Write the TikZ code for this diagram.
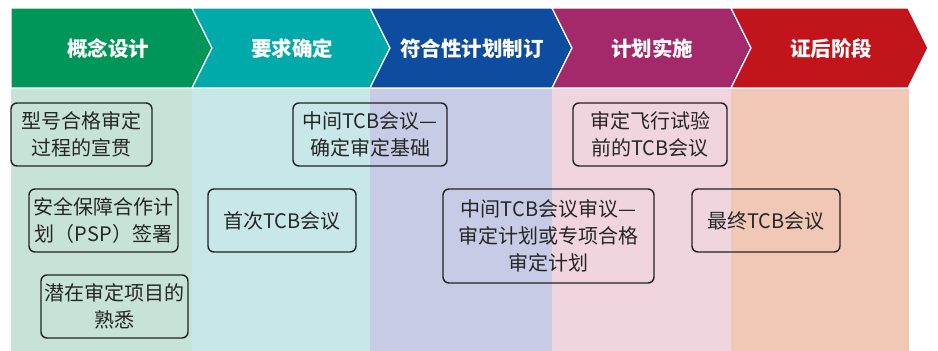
\documentclass[tikz,border=0pt]{standalone}
\usepackage{fontspec}
\newfontfamily\cjk{Noto Sans CJK SC}
\definecolor{cgreen}{HTML}{00965A}
\definecolor{cteal}{HTML}{00A9AA}
\definecolor{cblue}{HTML}{0D4C9E}
\definecolor{cmag}{HTML}{A4296A}
\definecolor{cred}{HTML}{C1141B}
\definecolor{bgreen}{HTML}{C7E2D7}
\definecolor{bteal}{HTML}{C8E7E8}
\definecolor{bblue}{HTML}{C7CBE5}
\definecolor{bpink}{HTML}{F0D4DE}
\definecolor{bpeach}{HTML}{F1C8B5}
\definecolor{boxline}{HTML}{222222}
\tikzset{
  chev/.style={draw=white, line width=1.2pt},
  headtxt/.style={text=white, font=\cjk\bfseries\fontsize{20.5}{24}\selectfont, inner sep=0pt},
  itembox/.style={draw=boxline, line width=1.4pt, rounded corners=6pt, align=center, inner sep=0pt,
    text=black!85, font=\cjk\fontsize{20}{27}\selectfont},
}
\begin{document}
\begin{tikzpicture}[x=1pt, y=-1pt]
\useasboundingbox (0,0) rectangle (938,351);
% column backgrounds
\fill[bgreen] (11,89) rectangle (192,351);
\fill[bteal] (192,89) rectangle (370,351);
\fill[bblue] (370,89) rectangle (552,351);
\fill[bpink] (552,89) rectangle (731,351);
\fill[bpeach] (731,89) rectangle (909,351);
% chevrons
\filldraw[chev, fill=cgreen] (11,8) -- (192,8) -- (212,48) -- (192,88) -- (11,88) -- cycle;
\filldraw[chev, fill=cteal] (192,8) -- (370,8) -- (390,48) -- (370,88) -- (192,88) -- (212,48) -- cycle;
\filldraw[chev, fill=cblue] (370,8) -- (552,8) -- (572,48) -- (552,88) -- (370,88) -- (390,48) -- cycle;
\filldraw[chev, fill=cmag] (552,8) -- (731,8) -- (751,48) -- (731,88) -- (552,88) -- (572,48) -- cycle;
\filldraw[chev, fill=cred] (731,8) -- (908,8) -- (928,48) -- (908,88) -- (731,88) -- (751,48) -- cycle;
% header labels
\node[headtxt] (h1) at (108,49) {概念设计};
\node[headtxt] (h2) at (292,49) {要求确定};
\node[headtxt] (h3) at (472,49) {符合性计划制订};
\node[headtxt] (h4) at (652,49) {计划实施};
\node[headtxt] (h5) at (831,49) {证后阶段};
% boxes
\node[itembox, minimum width=141pt, minimum height=63pt] (b1) at (81.5,134.5) {型号合格审定\\过程的宣贯};
\node[itembox, minimum width=149pt, minimum height=63pt] (b2) at (103.5,220.5) {安全保障合作计\\划（PSP）签署};
\node[itembox, minimum width=147pt, minimum height=63pt] (b3) at (114.5,306.5) {潜在审定项目的\\熟悉};
\node[itembox, minimum width=148pt, minimum height=63pt] (b4) at (282,220.5) {首次TCB会议};
\node[itembox, minimum width=154pt, minimum height=63pt] (b5) at (370,134.5) {中间TCB会议—\\确定审定基础};
\node[itembox, minimum width=211pt, minimum height=94pt] (b6) at (548.5,236) {中间TCB会议审议—\\审定计划或专项合格\\审定计划};
\node[itembox, minimum width=154pt, minimum height=63pt] (b7) at (650,134.5) {审定飞行试验\\前的TCB会议};
\node[itembox, minimum width=148pt, minimum height=63pt] (b8) at (766,220.5) {最终TCB会议};
\end{tikzpicture}
\end{document}
